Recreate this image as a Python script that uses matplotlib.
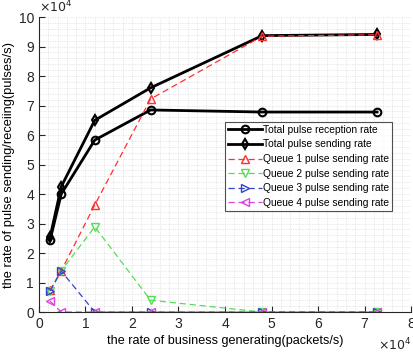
import matplotlib
matplotlib.use("Agg")

import matplotlib.pyplot as plt
from matplotlib.ticker import AutoMinorLocator, FuncFormatter

# generating rate of the business flow (packets/s)
gen_rate = [2400, 4800, 12000, 24000, 48000, 72700]

total_recv = [24400, 40000, 58300, 68500, 67800, 67800]
total_send = [25400, 42500, 65000, 76000, 93700, 94100]
queue1 = [7400, 14000, 36300, 72200, 93500, 94000]
queue2 = [7100, 14000, 28900, 4000, 0, 0]
queue3 = [7200, 13900, 0, 0, 0, 0]
queue4 = [3700, 0, 0, 0, 0, 0]

plt.rcParams["font.family"] = ["Liberation Sans", "DejaVu Sans"]
plt.rcParams["font.size"] = 8

fig = plt.figure(figsize=(4.14, 3.55), dpi=100)
ax = fig.add_axes([0.094, 0.121, 0.899, 0.831])

dash = (0, (5, 3))
ax.plot(gen_rate, total_recv, "k-o", lw=2, ms=5.5, mfc="none", mew=1.5,
        label="Total pulse reception rate")
ax.plot(gen_rate, total_send, "k-d", lw=2, ms=5.5, mfc="none", mew=1.5,
        label="Total pulse sending rate")
ax.plot(gen_rate, queue1, marker="^", ls=dash, color="#ff3030", lw=0.9,
        ms=6, mfc="none", label="Queue 1 pulse sending rate")
ax.plot(gen_rate, queue2, marker="v", ls=dash, color="#55dd55", lw=0.9,
        ms=6, mfc="none", label="Queue 2 pulse sending rate")
ax.plot(gen_rate, queue3, marker=">", ls=dash, color="#3344cc", lw=0.9,
        ms=6, mfc="none", label="Queue 3 pulse sending rate")
ax.plot(gen_rate, queue4, marker="<", ls=dash, color="#dd44dd", lw=0.9,
        ms=6, mfc="none", label="Queue 4 pulse sending rate")

ax.set_xlim(0, 80000)
ax.set_ylim(0, 100000)
ax.set_xticks(range(0, 80001, 10000))
ax.set_yticks(range(0, 100001, 10000))
scale = FuncFormatter(lambda v, _: f"{v / 1e4:g}")
ax.xaxis.set_major_formatter(scale)
ax.yaxis.set_major_formatter(scale)
ax.xaxis.set_minor_locator(AutoMinorLocator(5))
ax.yaxis.set_minor_locator(AutoMinorLocator(5))
ax.tick_params(which="major", direction="in", length=4, width=0.8,
               labelsize=10, colors="#262626")
ax.tick_params(which="minor", length=0)
ax.grid(True, which="both", color="#d4d4d4", ls=(0, (1, 1.5)), lw=0.5)
ax.set_axisbelow(True)

for side in ("top", "right"):
    ax.spines[side].set_visible(False)
for side in ("left", "bottom"):
    ax.spines[side].set_color("#262626")
    ax.spines[side].set_linewidth(0.8)

ax.text(1.0, -0.085, r"$\times10^4$", transform=ax.transAxes, fontsize=9,
        ha="right", va="top", color="#262626")
ax.text(0.0, 1.005, r"$\times10^4$", transform=ax.transAxes, fontsize=9,
        ha="left", va="bottom", color="#262626")

ax.set_xlabel("the rate of business generating(packets/s)", fontsize=9.1,
              labelpad=3)
ax.set_ylabel("the rate of pulse sending/receiing(pulses/s)", fontsize=9.3,
              labelpad=3)

leg = ax.legend(loc="upper right", bbox_to_anchor=(0.95, 0.645), fontsize=7.4,
                frameon=True, fancybox=False, borderpad=0.3, labelspacing=0.45,
                handlelength=3.3, handletextpad=0.1, borderaxespad=0)
leg.get_frame().set_edgecolor("#262626")
leg.get_frame().set_linewidth(0.8)

fig.savefig("out.png", dpi=100)
